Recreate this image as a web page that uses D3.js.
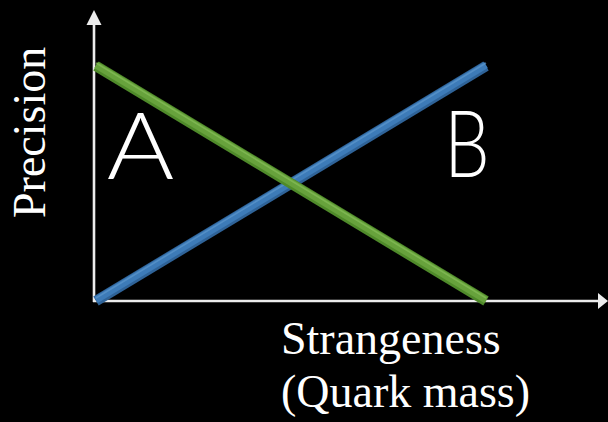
<!DOCTYPE html>
<html>
<head>
<meta charset="utf-8">
<script src="https://cdn.jsdelivr.net/npm/d3@7"></script>
<style>
  html, body { margin: 0; padding: 0; background: #000; }
  svg { display: block; }
</style>
</head>
<body>
<svg id="chart" width="608" height="422"></svg>
<script>
// Strangeness (x) runs from 0 to 1; precision (y) runs from 0 to 1.
const strangeness = [0, 1];
const precisionB = [0, 1];   // blue line: rises with strangeness
const precisionA = [1, 0];   // green line: falls with strangeness
const regionLabels = ["A", "B"];
const regionX = [0.114, 0.951];
const regionY = [0.520, 0.528];
const xTitle = ["Strangeness", "(Quark mass)"];
const yTitle = "Precision";

const svg = d3.select("#chart");
const W = 608, H = 422;
svg.append("rect").attr("width", W).attr("height", H).attr("fill", "#000");

const x = d3.scaleLinear().domain([0, 1]).range([96, 486]);
const y = d3.scaleLinear().domain([0, 1]).range([301, 66]);

const axisColor = "#ececec";
const originX = 94, originY = 301;

// Axes with arrowheads
svg.append("line")
  .attr("x1", originX).attr("y1", originY + 1)
  .attr("x2", originX).attr("y2", 22)
  .attr("stroke", axisColor).attr("stroke-width", 2.6);
svg.append("path")
  .attr("d", d3.line()([[originX - 7.5, 25], [originX, 10], [originX + 7.5, 25]]) + "Z")
  .attr("fill", axisColor);
svg.append("line")
  .attr("x1", originX - 1).attr("y1", originY)
  .attr("x2", 600).attr("y2", originY)
  .attr("stroke", axisColor).attr("stroke-width", 2.6);
svg.append("path")
  .attr("d", d3.line()([[598, originY - 8], [608, originY], [598, originY + 8]]) + "Z")
  .attr("fill", axisColor);

// Thick bevelled lines
function drawBar(values, dark, mid, light) {
  const pts = strangeness.map((s, i) => [x(s), y(values[i])]);
  const line = d3.line();
  const g = svg.append("g");
  g.append("path").attr("d", line(pts)).attr("stroke", dark)
    .attr("stroke-width", 10.5).attr("fill", "none").attr("stroke-linecap", "butt");
  g.append("path").attr("d", line(pts)).attr("stroke", mid)
    .attr("stroke-width", 7).attr("fill", "none").attr("stroke-linecap", "butt")
    .attr("transform", "translate(0,-1)");
  g.append("path").attr("d", line(pts)).attr("stroke", light)
    .attr("stroke-width", 1.6).attr("fill", "none").attr("stroke-linecap", "butt")
    .attr("transform", "translate(0,-3)").attr("opacity", 0.7);
}
drawBar(precisionB, "#2f6398", "#3d7bb8", "#5d97cc");
drawBar(precisionA, "#4f8a2a", "#67a23c", "#86bd58");

// Region labels (geometric caps: wide A, narrow B)
const labelStretch = [1.12, 0.78];
regionLabels.forEach((t, i) => {
  const tx = x(regionX[i]), ty = y(regionY[i]);
  svg.append("text")
    .attr("transform", `translate(${tx},${ty}) scale(${labelStretch[i]},1)`)
    .attr("text-anchor", "middle")
    .attr("font-family", "Lato, 'Open Sans', sans-serif")
    .attr("font-weight", 300)
    .attr("font-size", 92)
    .attr("fill", "#fff")
    .text(t);
});

// Axis titles
const serif = "'Liberation Serif', 'Times New Roman', serif";
svg.append("text")
  .attr("transform", "translate(45,218) rotate(-90)")
  .attr("font-family", serif)
  .attr("font-size", 46)
  .attr("fill", "#fff")
  .text(yTitle);
xTitle.forEach((t, i) => {
  svg.append("text")
    .attr("x", 281)
    .attr("y", 354 + i * 53)
    .attr("font-family", serif)
    .attr("font-size", 46)
    .attr("fill", "#fff")
    .text(t);
});
</script>
</body>
</html>
